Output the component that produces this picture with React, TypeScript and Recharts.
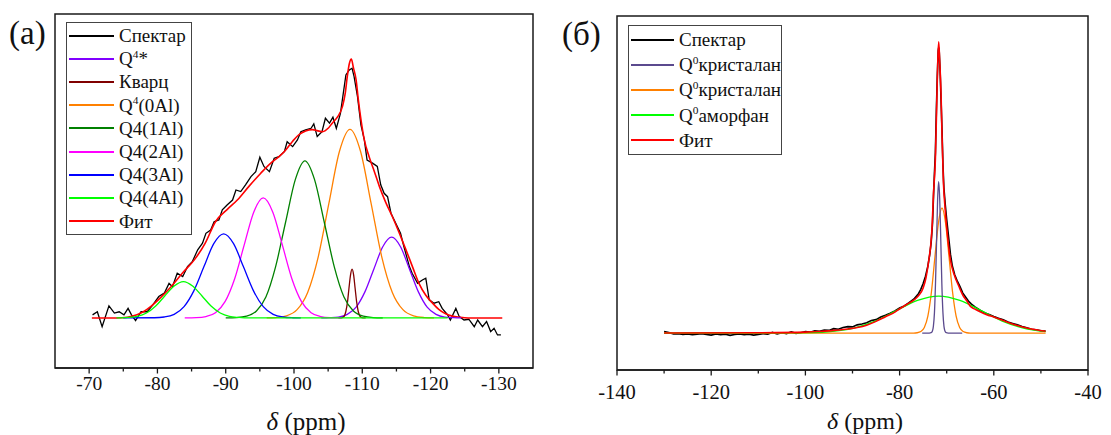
import { LineChart, Line, XAxis, YAxis, Legend, ReferenceArea } from 'recharts';

const SERIF = "'Liberation Serif', 'Times New Roman', serif";
const FRAME = '#1a1a1a';

// ---------- panel (a) ----------
const A_TICKS = [-70, -75, -80, -85, -90, -95, -100, -105, -110, -115, -120, -125, -130];

const A_SPEC_PPM = [-70.5, -71.2, -71.9, -72.9, -73.7, -74.4, -75.1, -75.7, -76.2, -76.8, -77.6, -78.5, -79.3, -80.2, -81, -81.7, -82.2, -82.9, -83.7, -84.4, -85.1, -85.9, -86.6, -87.1, -87.8, -88.3, -89, -89.5, -90.2, -91, -91.5, -92.2, -92.9, -93.7, -94.4, -95, -95.6, -96.4, -97.1, -97.8, -98.6, -99, -99.8, -100.5, -101, -101.7, -102.5, -102.9, -103.4, -104.1, -104.6, -105.2, -105.7, -106.2, -106.8, -107.6, -108.1, -108.5, -108.8, -109.3, -109.8, -110.3, -110.7, -111.5, -112.2, -112.7, -113.2, -113.7, -114.2, -114.9, -115.6, -116.1, -116.9, -117.3, -118.1, -118.8, -119.3, -119.8, -120.5, -121.2, -121.7, -122.5, -122.9, -123.7, -124.2, -124.9, -125.6, -126.4, -126.9, -127.6, -128.2, -128.8, -129.3, -129.8, -130.3];
const A_SPEC_I = [1.2, 2.4, -3.4, 4.7, 1.9, 2.4, 1.2, 3.7, 1.2, -1, 2.4, 2.4, 5, 8.3, 9.6, 13.4, 12.1, 17.3, 16, 19.9, 21.8, 26.4, 29, 32.8, 34.1, 37.3, 38, 41.9, 43.8, 45.7, 49.6, 49, 51.6, 54.8, 56.7, 62.3, 58.7, 56.7, 61.9, 62.5, 64.5, 68.3, 66.4, 69, 72.2, 72.9, 73.5, 75.2, 70.3, 72.2, 77.4, 75.5, 77.8, 73.5, 79.3, 94.2, 96.1, 96.8, 93.5, 85.8, 74.8, 69, 61.2, 60, 58.7, 51.6, 48.3, 47, 40.6, 36.7, 32.8, 27.6, 19.9, 17.3, 13.4, 14.7, 15.4, 7, 5.7, 6.3, 3.7, 1.2, -0.8, 3.7, 0.5, -0.8, -0.5, -3.4, -0.8, -3.4, -1.4, -5.3, -4, -6.6, -6.6];

const A_FIT_PPM = [-70.4, -74, -75.6, -77, -78, -79, -80.5, -82, -83.7, -85.4, -87, -88.5, -90.2, -91.7, -93.4, -95.1, -96.8, -97.8, -98.6, -99.8, -100.7, -101.7, -102.7, -103.5, -104.2, -105, -105.6, -106.4, -107.1, -107.5, -107.8, -108.1, -108.4, -108.7, -109.1, -109.4, -109.8, -110.3, -111, -111.8, -112.5, -113.4, -114.4, -115.4, -116.4, -117.4, -118.3, -119.3, -120.3, -121.2, -122.2, -123.2, -124.2, -125.5, -130.5];
const A_FIT_I = [0, 0, 0.3, 1.2, 2.5, 4.4, 8, 12.1, 17.5, 22.5, 29, 37.3, 42, 45.7, 51, 56, 60.5, 62.5, 64.5, 68.5, 71, 72.5, 73, 72.5, 72.2, 73.5, 75.5, 78, 82, 87, 93.5, 98.5, 100.3, 97, 92.2, 85, 77, 69, 62.5, 56.5, 51, 45, 39.3, 33, 26.4, 19.5, 13.4, 8.8, 5.7, 3.3, 1.6, 0.7, 0.3, 0, 0];

const A_Q4S_PPM = [-104, -105.2, -106.5, -107.8, -109.1, -110.4, -111.7, -113, -114.3, -115.6, -116.9, -118.2, -119.5, -120.8, -122.1, -123.4, -124.5];
const A_Q4S_I = [0, 0.1, 0.35, 1.4, 4.2, 10.2, 19, 27.6, 31.3, 27.6, 19, 10.2, 4.2, 1.4, 0.35, 0.1, 0];

const A_QTZ_PPM = [-106.5, -106.9, -107.15, -107.38, -107.6, -107.83, -108.05, -108.28, -108.5, -108.73, -108.95, -109.18, -109.4, -109.63, -109.85, -110.1, -110.5];
const A_QTZ_I = [0, 0.04, 0.2, 0.8, 2.6, 6.1, 11.5, 16.7, 18.9, 16.7, 11.5, 6.1, 2.6, 0.8, 0.2, 0.04, 0];

const A_Q0_PPM = [-96, -97.35, -98.9, -100.45, -102, -103.55, -105.1, -106.65, -108.2, -109.75, -111.3, -112.85, -114.4, -115.95, -117.5, -119.05, -120.5];
const A_Q0_I = [0, 0.16, 0.81, 3.2, 9.9, 23.7, 44.3, 64.5, 73.1, 64.5, 44.3, 23.7, 9.9, 3.2, 0.81, 0.16, 0];

const A_Q1_PPM = [-90, -91.6, -93.05, -94.5, -95.9, -97.3, -98.75, -100.2, -101.6, -103, -104.45, -105.9, -107.3, -108.7, -110.15, -111.6, -113];
const A_Q1_I = [0, 0.13, 0.68, 2.7, 8.2, 19.8, 36.9, 53.7, 60.9, 53.7, 36.9, 19.8, 8.2, 2.7, 0.68, 0.13, 0];

const A_Q2_PPM = [-84, -85.7, -87.1, -88.5, -89.9, -91.3, -92.7, -94.1, -95.5, -96.9, -98.3, -99.7, -101.1, -102.5, -103.9, -105.3, -107];
const A_Q2_I = [0, 0.1, 0.52, 2, 6.3, 15.1, 28.2, 41, 46.5, 41, 28.2, 15.1, 6.3, 2, 0.52, 0.1, 0];

const A_Q3_PPM = [-75, -79.55, -81, -82.45, -83.9, -85.35, -86.8, -88.25, -89.7, -91.15, -92.6, -94.05, -95.5, -96.95, -98.4, -99.85, -101];
const A_Q3_I = [0, 0.07, 0.36, 1.4, 4.4, 10.6, 19.8, 28.8, 32.6, 28.8, 19.8, 10.6, 4.4, 1.4, 0.36, 0.07, 0];

const A_Q4_PPM = [-74, -75.7, -77.05, -78.4, -79.75, -81.1, -82.45, -83.8, -85.15, -86.5, -87.85, -89.2, -90.55, -91.9, -93.5, -122.5];
const A_Q4_I = [0, 0.2, 0.6, 1.9, 4.6, 8.6, 12.4, 14.1, 12.4, 8.6, 4.6, 1.9, 0.6, 0.2, 0, 0];

// ---------- panel (б) ----------
const B_TICKS = [-140, -130, -120, -110, -100, -90, -80, -70, -60, -50, -40];

const B_SPEC_PPM = [-130, -129, -128, -127, -126, -125, -124, -123, -122, -121, -120, -119, -118, -117, -116, -115, -114, -113, -112, -111, -110, -109, -108, -107, -106, -105, -104, -103, -102, -101, -100, -99, -98, -97, -96, -95, -94, -93, -92, -91, -90, -89, -88, -87, -86, -85, -84, -83, -82, -81, -80, -79, -78, -77, -76, -75.5, -75, -74.5, -74, -73.6, -73.3, -73, -72.8, -72.6, -72.4, -72.2, -72, -71.8, -71.7, -71.6, -71.4, -71.2, -71, -70.8, -70.6, -70.3, -70, -69.6, -69.2, -68.8, -68.3, -67.8, -67.2, -66.6, -66, -65.4, -64.8, -64, -63, -62, -61, -60, -59, -58, -57, -56, -55, -54, -53, -52, -51, -50, -49];
const B_SPEC_I = [0.5, 0.2, -0.3, -0.2, -0.5, -0.3, -0.6, -0.4, -0.2, -0.5, -0.7, -0.3, -0.6, -0.4, -0.8, -0.5, -0.3, -0.6, -0.4, -0.7, -0.5, -0.2, -0.4, 0.2, -0.3, 0.1, -0.2, 0.4, -0.1, 0.1, 0.5, 0.3, 0.8, 0.6, 1, 0.9, 1.5, 1.3, 1.9, 2.2, 2.1, 2.8, 3.1, 3.5, 4.3, 4.6, 5.5, 6.1, 6.8, 7.6, 8.6, 9.3, 10.4, 11.6, 13.5, 15, 17, 19.5, 23, 27, 31, 38, 47, 55, 62, 76, 88, 97, 98, 97, 90, 80, 70, 58, 50, 44, 39, 33, 27, 23, 20, 18, 16, 13.8, 12.4, 11, 10, 9, 7.9, 7, 6.4, 5.7, 5.1, 4.6, 3.8, 3.3, 2.8, 2.2, 1.8, 1.3, 1.1, 0.8, 0.7];

const B_FIT_PPM = [-130, -110, -100, -97, -94, -91, -89, -87, -85, -83, -81, -79.8, -78.5, -77, -76, -75, -74.4, -73.8, -73.4, -73.1, -72.8, -72.4, -72.1, -71.9, -71.7, -71.5, -71.2, -71, -70.7, -70.3, -69.8, -69.2, -68.4, -67.4, -66.5, -65.7, -65, -64, -62.9, -61.5, -60, -58, -56.5, -55, -53, -51, -49];
const B_FIT_I = [0, 0.1, 0.3, 0.5, 0.9, 1.4, 1.9, 2.7, 4, 5.6, 7.2, 8.5, 9.8, 11.3, 12.8, 15.5, 19, 25, 30, 36.5, 48, 60, 80, 93, 100, 94, 82, 68, 52, 42, 33, 25, 20, 16, 12.8, 11, 9.2, 8.2, 7.3, 6.3, 5.5, 4.3, 3.4, 2.6, 1.7, 1.1, 0.6];

const B_CR1_PPM = [-75.2, -73.7, -73.3, -73.05, -72.83, -72.6, -72.38, -72.15, -71.93, -71.7, -71.48, -71.25, -71.03, -70.8, -70.58, -70.35, -70.1, -69.7, -66.7];
const B_CR1_I = [0, 0, 0.1, 0.6, 2.3, 7, 16.9, 31.5, 45.9, 52, 45.9, 31.5, 16.9, 7, 2.3, 0.6, 0.1, 0, 0];

const B_CR2_PPM = [-130, -77, -76.25, -75.5, -74.75, -74, -73.25, -72.5, -71.75, -71, -70.25, -69.5, -68.75, -68, -67.25, -66.5, -65.75, -65, -49];
const B_CR2_I = [0, 0, 0.1, 0.5, 1.9, 5.8, 14, 26.1, 37.9, 43, 37.9, 26.1, 14, 5.8, 1.9, 0.5, 0.1, 0, 0];

const B_AM_PPM = [-130, -98.7, -94.2, -89.7, -85.2, -80.7, -76.2, -71.7, -67.2, -62.7, -58.2, -53.7, -49];
const B_AM_I = [0, 0.14, 0.56, 1.7, 4.1, 7.7, 11.2, 12.7, 11.2, 7.7, 4.1, 1.7, 0.5];

const zip = (xs: number[], ys: number[]) => xs.map((x, i) => ({ x, y: ys[i] }));

type Series = {
  key: string;
  color: string;
  label: [string, string?, string?]; // base, superscript, rest
  data: { x: number; y: number }[];
  curve: 'linear' | 'monotone';
  width?: number;
};

const A_SERIES: Record<string, Series> = {
  spec: { key: 'spec', color: '#000000', label: ['Спектар'], data: zip(A_SPEC_PPM, A_SPEC_I), curve: 'linear' },
  q4s: { key: 'q4s', color: '#8000FF', label: ['Q', '4', '*'], data: zip(A_Q4S_PPM, A_Q4S_I), curve: 'monotone' },
  qtz: { key: 'qtz', color: '#800000', label: ['Кварц'], data: zip(A_QTZ_PPM, A_QTZ_I), curve: 'monotone' },
  q0: { key: 'q0', color: '#FF8000', label: ['Q', '4', '(0Al)'], data: zip(A_Q0_PPM, A_Q0_I), curve: 'monotone' },
  q1: { key: 'q1', color: '#008000', label: ['Q4(1Al)'], data: zip(A_Q1_PPM, A_Q1_I), curve: 'monotone' },
  q2: { key: 'q2', color: '#FF00FF', label: ['Q4(2Al)'], data: zip(A_Q2_PPM, A_Q2_I), curve: 'monotone' },
  q3: { key: 'q3', color: '#0000FF', label: ['Q4(3Al)'], data: zip(A_Q3_PPM, A_Q3_I), curve: 'monotone' },
  q4: { key: 'q4', color: '#00FF00', label: ['Q4(4Al)'], data: zip(A_Q4_PPM, A_Q4_I), curve: 'monotone' },
  fit: { key: 'fit', color: '#FF0000', label: ['Фит'], data: zip(A_FIT_PPM, A_FIT_I), curve: 'monotone', width: 1.6 },
};
const A_LEGEND = ['spec', 'q4s', 'qtz', 'q0', 'q1', 'q2', 'q3', 'q4', 'fit'];
const A_DRAW = ['spec', 'fit', 'q4s', 'qtz', 'q0', 'q1', 'q2', 'q3', 'q4'];

const B_SERIES: Record<string, Series> = {
  spec: { key: 'spec', color: '#000000', label: ['Спектар'], data: zip(B_SPEC_PPM, B_SPEC_I), curve: 'linear', width: 1.6 },
  cr1: { key: 'cr1', color: '#5B4A8E', label: ['Q', '0', 'кристалан'], data: zip(B_CR1_PPM, B_CR1_I), curve: 'monotone' },
  cr2: { key: 'cr2', color: '#FF8000', label: ['Q', '0', 'кристалан'], data: zip(B_CR2_PPM, B_CR2_I), curve: 'monotone' },
  am: { key: 'am', color: '#00FF00', label: ['Q', '0', 'аморфан'], data: zip(B_AM_PPM, B_AM_I), curve: 'monotone' },
  fit: { key: 'fit', color: '#FF0000', label: ['Фит'], data: zip(B_FIT_PPM, B_FIT_I), curve: 'monotone', width: 1.6 },
};
const B_LEGEND = ['spec', 'cr1', 'cr2', 'am', 'fit'];
const B_DRAW = ['spec', 'cr2', 'am', 'fit', 'cr1'];

function makeTick(isMajor: (v: number) => boolean, labelDy: number, fontSize: number) {
  return function Tick(props: any) {
    const { x, y, payload } = props;
    const v = payload.value;
    const major = isMajor(v);
    return (
      <g>
        <line x1={x} x2={x} y1={y} y2={y + (major ? 5.5 : 3.5)} stroke={FRAME} strokeWidth={1.3} />
        {major && (
          <text x={x} y={y + labelDy} textAnchor="middle" fontSize={fontSize} fontFamily={SERIF} fill="#111">
            {v}
          </text>
        )}
      </g>
    );
  };
}

function LegendBox({ series, order, rowH, sampleW, textGap, fontSize, width }: any) {
  return (
    <div style={{ width, border: '1px solid #444', background: '#fff', padding: '1px 0', fontFamily: SERIF, fontSize, color: '#111' }}>
      {order.map((k: string) => {
        const s: Series = series[k];
        return (
          <div key={k} style={{ height: rowH, display: 'flex', alignItems: 'center', whiteSpace: 'nowrap' }}>
            <div style={{ width: sampleW, marginLeft: 2, height: 2, background: s.color }} />
            <span style={{ marginLeft: textGap, lineHeight: 1 }}>
              {s.label[0]}
              {s.label[1] && <sup style={{ fontSize: fontSize * 0.6, verticalAlign: 0, position: 'relative', top: -fontSize * 0.4 }}>{s.label[1]}</sup>}
              {s.label[2]}
            </span>
          </div>
        );
      })}
    </div>
  );
}

const axisLine = { stroke: FRAME, strokeWidth: 1.5 };

function Panel({ width, height, margin, xDomain, reversed, ticks, tick, xHeight, yDomain, series, draw, legend }: any) {
  return (
    <LineChart width={width} height={height} margin={margin}>
      <XAxis
        type="number"
        dataKey="x"
        domain={xDomain}
        reversed={reversed}
        allowDataOverflow
        ticks={ticks}
        interval={0}
        tick={tick}
        tickLine={false}
        tickSize={0}
        tickMargin={0}
        height={xHeight}
        axisLine={axisLine}
      />
      <YAxis type="number" domain={yDomain} allowDataOverflow hide />
      <ReferenceArea
        x1={xDomain[0]}
        x2={xDomain[1]}
        y1={yDomain[0]}
        y2={yDomain[1]}
        fill="none"
        fillOpacity={0}
        stroke={FRAME}
        strokeWidth={1.5}
        strokeOpacity={1}
        ifOverflow="visible"
      />
      {draw.map((k: string) => {
        const s: Series = series[k];
        return (
          <Line
            key={k}
            data={s.data}
            dataKey="y"
            type={s.curve}
            stroke={s.color}
            strokeWidth={s.width ?? 1.3}
            dot={false}
            activeDot={false}
            isAnimationActive={false}
          />
        );
      })}
      {legend}
    </LineChart>
  );
}

export default function App() {
  const tickA = makeTick((v) => v % 10 === 0, 22, 19.5);
  const tickB = makeTick((v) => v % 20 === 0, 29, 20.5);
  return (
    <div style={{ position: 'absolute', left: 0, top: 0, width: 1111, height: 435, background: '#fff', fontFamily: SERIF }}>
      <div style={{ position: 'absolute', left: 0, top: 0 }}>
        <Panel
          width={545}
          height={435}
          margin={{ top: 14, right: 12, bottom: 0, left: 55 }}
          xDomain={[-135, -65]}
          reversed
          ticks={A_TICKS}
          tick={tickA}
          xHeight={67}
          yDomain={[-19.4, 117.8]}
          series={A_SERIES}
          draw={A_DRAW}
          legend={
            <Legend
              layout="vertical"
              align="center"
              verticalAlign="middle"
              wrapperStyle={{ left: 66, top: 22, width: 126 }}
              content={() => <LegendBox series={A_SERIES} order={A_LEGEND} rowH={23.2} sampleW={45} textGap={5} fontSize={19} width={124} />}
            />
          }
        />
      </div>
      <div style={{ position: 'absolute', left: 560, top: 0 }}>
        <Panel
          width={551}
          height={435}
          margin={{ top: 16, right: 23, bottom: 0, left: 57 }}
          xDomain={[-140, -40]}
          reversed={false}
          ticks={B_TICKS}
          tick={tickB}
          xHeight={65}
          yDomain={[-12.7, 108.9]}
          series={B_SERIES}
          draw={B_DRAW}
          legend={
            <Legend
              layout="vertical"
              align="center"
              verticalAlign="middle"
              wrapperStyle={{ left: 68, top: 25, width: 154 }}
              content={() => <LegendBox series={B_SERIES} order={B_LEGEND} rowH={25.2} sampleW={43} textGap={5} fontSize={19} width={152} />}
            />
          }
        />
      </div>
      <svg width={1111} height={435} style={{ position: 'absolute', left: 0, top: 0, pointerEvents: 'none' }}>
        <text x={9} y={44} fontSize={33} fontFamily={SERIF} fill="#111">(a)</text>
        <text x={562} y={45} fontSize={33} fontFamily={SERIF} fill="#111">(б)</text>
        <text x={306} y={430} textAnchor="middle" fontSize={25} fontFamily={SERIF} fill="#111">
          <tspan fontStyle="italic">δ</tspan> (ppm)
        </text>
        <text x={865} y={429} textAnchor="middle" fontSize={24} fontFamily={SERIF} fill="#111">
          <tspan fontStyle="italic">δ</tspan> (ppm)
        </text>
      </svg>
    </div>
  );
}
